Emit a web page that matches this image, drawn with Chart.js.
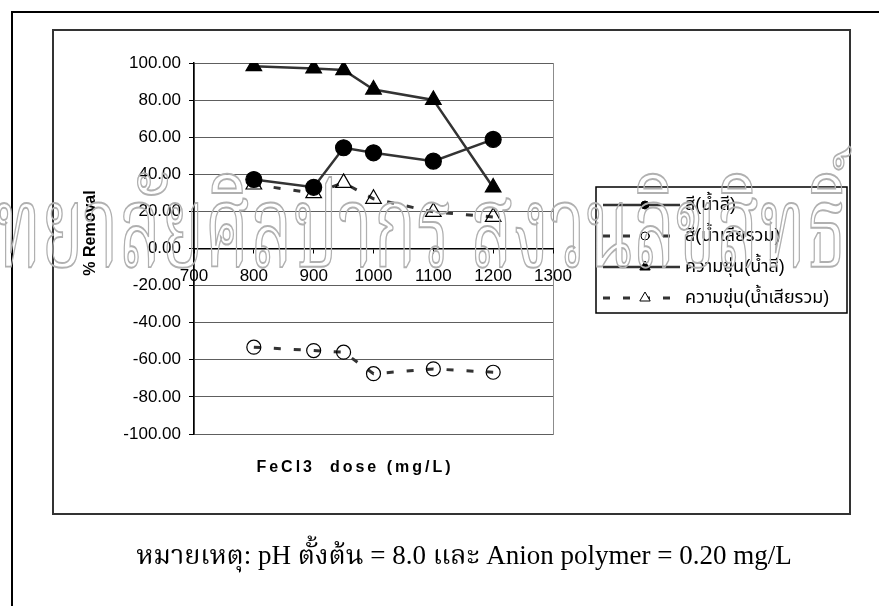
<!DOCTYPE html>
<html>
<head>
<meta charset="utf-8">
<script src="https://cdn.jsdelivr.net/npm/chart.js@4.4.1/dist/chart.umd.min.js"></script>
<style>
  html, body { margin: 0; padding: 0; background: #fff; }
  #wrap { width: 879px; height: 606px; position: relative; }
</style>
</head>
<body>
<div id="wrap"><canvas id="removalChart"></canvas></div>
<script>
// FeCl3 dose (mg/L)
const doses = [800, 900, 950, 1000, 1100, 1200];

// % removal per series
const colorDye = [37.2, 33.0, 54.3, 51.6, 47.1, 58.8];
const colorMixed = [-53.2, -55.0, -55.9, -67.5, -64.9, -66.7];
const turbDye = [98.3, 97.1, 96.2, 85.7, 80.1, 32.9];
const turbMixed = [34.5, 29.8, 35.4, 26.8, 19.7, 17.0];

const seriesLabels = ['สี(น้ำสี)', 'สี(น้ำเสียรวม)', 'ความขุ่น(น้ำสี)', 'ความขุ่น(น้ำเสียรวม)'];

const xTicks = [700, 800, 900, 1000, 1100, 1200, 1300];
const yTicks = [-100, -80, -60, -40, -20, 0, 20, 40, 60, 80, 100];

const xTitle = 'FeCl3  dose (mg/L)';
const yTitle = '% Removal';
const noteText = 'หมายเหตุ: pH ตั้งต้น = 8.0 และ Anion polymer = 0.20 mg/L';
const stampText = 'มหาวิทยาลัยศิลปากร สงวนลิขสิทธิ์';

const SANS = "'Liberation Sans', Arial, 'Noto Sans Thai', Tahoma, Loma, Garuda, 'Noto Sans', sans-serif";
const SERIF = "'Liberation Serif', 'Times New Roman', 'Noto Serif Thai', Norasi, serif";
const INK = '#333333';

const points = values => doses.map((x, i) => ({ x, y: values[i] }));

const lineSet = (label, values, shape, filled, dashed) => ({
    label,
    data: points(values),
    borderColor: INK,
    borderWidth: dashed ? 3 : 2.5,
    borderDash: dashed ? [7, 13] : [],
    pointStyle: shape,
    pointRadius: shape === 'triangle' ? 9 : (filled ? 8 : 7),
    pointBorderWidth: 1.2,
    pointBorderColor: '#000',
    pointBackgroundColor: filled ? '#000' : 'rgba(0,0,0,0)',
    tension: 0
});

// frames, titles, legend box, note and the faint stamp
const chartDecor = {
    id: 'chartDecor',
    beforeDraw(chart) {
        const { ctx, chartArea: a } = chart;
        ctx.save();
        ctx.fillStyle = '#fff';
        ctx.fillRect(0, 0, chart.width, chart.height);
        ctx.strokeStyle = '#000';
        ctx.lineWidth = 2;
        ctx.beginPath();
        ctx.moveTo(12, 606);
        ctx.lineTo(12, 12);
        ctx.lineTo(879, 12);
        ctx.stroke();
        ctx.strokeStyle = INK;
        ctx.strokeRect(53, 30, 797, 484);
        ctx.strokeStyle = '#8c8c8c';
        ctx.lineWidth = 1;
        ctx.strokeRect(a.left + 0.5, a.top + 0.5, a.right - a.left, a.bottom - a.top);
        ctx.restore();
    },
    afterDraw(chart) {
        const { ctx } = chart;
        ctx.save();
        ctx.fillStyle = '#000';

        ctx.save();
        ctx.font = `bold 16px ${SANS}`;
        ctx.letterSpacing = '3px';
        ctx.textAlign = 'center';
        ctx.textBaseline = 'middle';
        ctx.fillText(xTitle, 355, 468);
        ctx.restore();

        ctx.save();
        ctx.translate(91, 233);
        ctx.rotate(-Math.PI / 2);
        ctx.font = `bold 16px ${SANS}`;
        ctx.textAlign = 'center';
        ctx.textBaseline = 'middle';
        ctx.fillText(yTitle, 0, 0);
        ctx.restore();

        // legend
        ctx.textBaseline = 'middle';
        ctx.lineWidth = 1.5;
        ctx.strokeStyle = '#000';
        ctx.strokeRect(596, 187, 251, 126);
        const rows = [205, 236, 267, 298];
        chart.data.datasets.forEach((ds, i) => {
            const y = rows[i];
            ctx.save();
            ctx.strokeStyle = ds.borderColor;
            ctx.lineWidth = ds.borderWidth;
            ctx.setLineDash(ds.borderDash);
            ctx.beginPath();
            ctx.moveTo(603, y);
            ctx.lineTo(680, y);
            ctx.stroke();
            ctx.restore();
            ctx.save();
            ctx.fillStyle = ds.pointBackgroundColor === '#000' ? '#000' : '#fff';
            ctx.strokeStyle = '#000';
            ctx.lineWidth = 1;
            ctx.beginPath();
            if (ds.pointStyle === 'triangle') {
                ctx.moveTo(645, y - 6);
                ctx.lineTo(650.2, y + 3);
                ctx.lineTo(639.8, y + 3);
                ctx.closePath();
            } else {
                ctx.arc(645, y, 4, 0, Math.PI * 2);
            }
            ctx.fill();
            ctx.stroke();
            ctx.restore();
            ctx.font = `18px ${SANS}`;
            ctx.textAlign = 'left';
            ctx.fillStyle = '#000';
            ctx.fillText(ds.label, 685, y);
        });

        ctx.textBaseline = 'middle';
        ctx.font = `27px ${SERIF}`;
        ctx.textAlign = 'center';
        ctx.fillText(noteText, 464, 557);

        // outlined stamp across the middle
        ctx.font = `115px ${SERIF}`;
        ctx.textAlign = 'left';
        ctx.textBaseline = 'alphabetic';
        const sx = 475 / ctx.measureText('ทยาลัยศิลปากร ').width;
        ctx.translate(-5 - ctx.measureText('มหาวิ').width * sx, 266);
        ctx.scale(sx, 1);
        ctx.strokeStyle = '#b0b0b0';
        ctx.lineWidth = 1.2 / sx;
        ctx.strokeText(stampText, 0, 0);
        ctx.restore();
    }
};

new Chart(document.getElementById('removalChart'), {
    type: 'line',
    data: {
        datasets: [
            lineSet(seriesLabels[0], colorDye, 'circle', true, false),
            lineSet(seriesLabels[1], colorMixed, 'circle', false, true),
            lineSet(seriesLabels[2], turbDye, 'triangle', true, false),
            lineSet(seriesLabels[3], turbMixed, 'triangle', false, true)
        ]
    },
    options: {
        responsive: true,
        maintainAspectRatio: false,
        animation: false,
        layout: { padding: { left: 53, top: 63, right: 326, bottom: 172 } },
        plugins: { legend: { display: false }, tooltip: { enabled: false } },
        scales: {
            x: {
                type: 'linear',
                min: 700,
                max: 1300,
                position: { y: 0 },
                afterBuildTicks: s => { s.ticks = xTicks.map(value => ({ value })); },
                afterFit: s => { s.height = 0; },
                grid: { display: true, drawOnChartArea: false, tickLength: 4, color: '#000' },
                border: { color: '#000', width: 1.5 },
                ticks: {
                    padding: 14,
                    color: '#000',
                    maxRotation: 0,
                    autoSkip: false,
                    font: { family: SANS, size: 17 },
                    callback: v => String(v)
                }
            },
            y: {
                min: -100,
                max: 100,
                afterBuildTicks: s => { s.ticks = yTicks.map(value => ({ value })); },
                afterFit: s => { s.width = 141; },
                grid: { color: '#5e5e5e', lineWidth: 1, tickLength: 5, tickColor: '#000' },
                border: { color: '#000', width: 1.5 },
                ticks: {
                    padding: 8,
                    color: '#000',
                    font: { family: SANS, size: 17 },
                    callback: v => Number(v).toFixed(2)
                }
            }
        }
    },
    plugins: [chartDecor]
});
</script>
</body>
</html>
